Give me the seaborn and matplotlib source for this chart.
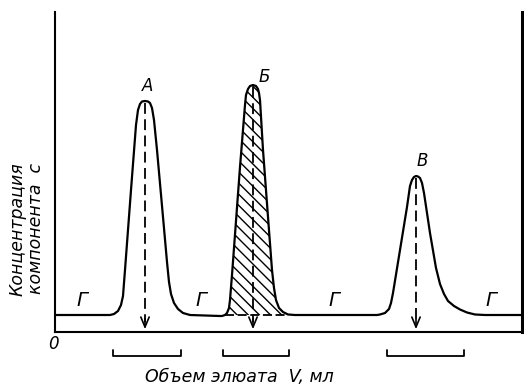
import matplotlib
matplotlib.use("Agg")
import matplotlib.pyplot as plt
import seaborn as sns
import pandas as pd
import numpy as np

# Curve (V in arbitrary units, c in arbitrary units)
curve_v = [0, 55, 59, 63, 66, 68, 70, 76, 81, 83, 85, 87, 90, 93, 95, 97, 99, 102, 108, 112, 114, 116, 119, 123, 128, 135, 165,
           167, 170, 172, 174, 175, 177, 185, 190, 191, 193, 195, 198, 201, 203, 204, 205, 208, 213, 217, 219, 221, 224, 228, 233, 240, 322,
           325, 330, 334, 336, 338, 345, 352, 355, 357, 359, 361, 363, 365, 367, 369, 375, 381, 385, 389, 393, 399, 405, 412, 420, 430, 467]
curve_c = [17, 17, 18, 21, 27, 36, 62, 142, 207, 222, 228, 230.5, 231, 230.5, 229, 224, 212, 182, 115, 70, 50, 38, 29, 23, 19, 17, 16,
           16, 17, 19, 24, 32, 57, 165, 227, 237, 243, 246, 247, 246, 243, 239, 232, 182, 115, 62, 44, 32, 24, 20, 17.5, 17, 17,
           17.5, 19, 23, 29, 39, 82, 125, 146, 152, 155, 156, 155.5, 154, 149, 139, 99, 64, 48, 38, 31, 26, 22.5, 19.5, 17.5, 17, 17]

peak_labels = ["A", "Б", "В"]
peak_v = [90, 198, 361]
peak_c = [231, 247, 156]
gap_label_v = [27, 146, 279, 436]
gap_label = "Г"
bracket_ranges = [(58, 126), (168, 234), (332, 409)]
hatch_range = (173, 229)
baseline_c = 17

sns.set_theme(style="white")
plt.rcParams['font.family'] = ['Liberation Sans Narrow', 'DejaVu Sans']
plt.rcParams['text.color'] = 'black'

fig = plt.figure(figsize=(5.24, 3.86), dpi=100)
ax = fig.add_axes([55/524, 54/386, 467/524, 320/386])

df = pd.DataFrame({"V": curve_v, "c": curve_c})
sns.lineplot(data=df, x="V", y="c", sort=False, estimator=None, color="black", linewidth=1.6, ax=ax)

# hatched area under peak Б
v = np.array(curve_v, dtype=float)
c = np.array(curve_c, dtype=float)
m = (v >= hatch_range[0]) & (v <= hatch_range[1])
ax.fill_between(v[m], baseline_c, c[m], facecolor="none", edgecolor="black", hatch="\\\\\\", linewidth=0)
ax.plot([hatch_range[0]-3, hatch_range[1]+1], [baseline_c, baseline_c], color="black", lw=1.3, ls=(0, (5, 2)))

# dashed arrows from peaks
for pv, pc in zip(peak_v, peak_c):
    ax.plot([pv, pv], [pc - 2, 10], color="black", lw=1.3, ls=(0, (6, 3)))
    ax.annotate("", xy=(pv, 0), xytext=(pv, 16),
                arrowprops=dict(arrowstyle="->,head_length=0.6,head_width=0.25", color="black", lw=1.2))

# peak labels
offsets = [(3, 15), (11, 8), (6, 15)]
for lab, pv, pc, (dx, dy) in zip(peak_labels, peak_v, peak_c, offsets):
    ax.text(pv + dx, pc + dy, lab, fontsize=12, fontstyle="italic", ha="center", va="center", color="black")
for gv in gap_label_v:
    ax.text(gv, 32, gap_label, fontsize=14, fontstyle="italic", ha="center", va="center", color="black")

# brackets below axis
for a, b in bracket_ranges:
    ax.plot([a, a, b, b], [-18, -24, -24, -18], color="black", lw=1.3, clip_on=False)

ax.text(-2, -12, "0", fontsize=12, fontstyle="italic", ha="center", va="center", color="black")
ax.text(184, -45, "Объем элюата  V, мл", fontsize=12.5, fontstyle="italic", ha="center", va="center", color="black")
fig.text(27/524, 1 - 229/386, "Концентрация\nкомпонента  с", fontsize=12.5, fontstyle="italic",
         rotation=90, ha="center", va="center", linespacing=1.05, color="black")

ax.set_xlim(0, 467)
ax.set_ylim(0, 320)
ax.set_xticks([])
ax.set_yticks([])
ax.set_xlabel("")
ax.set_ylabel("")
ax.spines["top"].set_visible(False)
for s in ["left", "bottom"]:
    ax.spines[s].set_color("black")
    ax.spines[s].set_linewidth(1.5)
ax.spines["right"].set_color("black")
ax.spines["right"].set_linewidth(2.2)

fig.savefig("out.png", dpi=100, facecolor="white")
